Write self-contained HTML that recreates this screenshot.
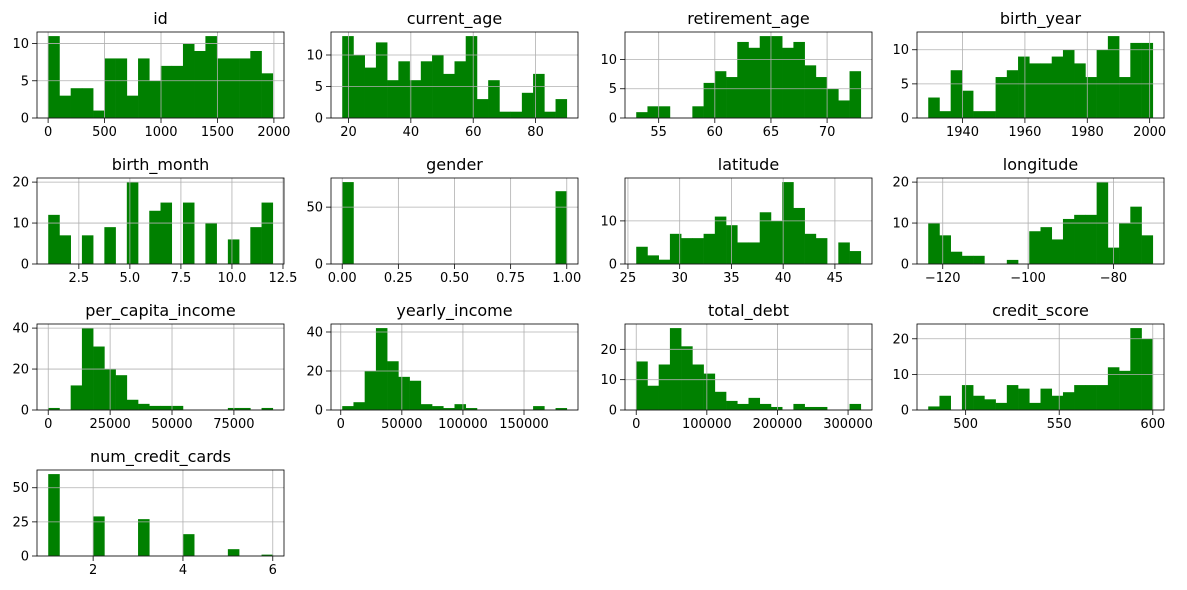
<!DOCTYPE html>
<html><head><meta charset="utf-8"><style>
html,body{margin:0;padding:0;background:#fff;}
svg{display:block;font-family:"DejaVu Sans","Liberation Sans",sans-serif;}
</style></head><body>
<svg id="fig" width="1187" height="590" viewBox="0 0 1187 590" xmlns="http://www.w3.org/2000/svg"></svg>
<script>
const titles = ["id","current_age","retirement_age","birth_year","birth_month","gender","latitude","longitude","per_capita_income","yearly_income","total_debt","credit_score","num_credit_cards"];
const idCounts = [11,3,4,4,1,8,8,3,8,5,7,7,10,9,11,8,8,8,9,6];
const currentAgeCounts = [13,10,8,12,6,9,6,9,10,7,9,13,3,6,1,1,4,7,1,3];
const retirementAgeCounts = [1,2,2,0,0,2,6,8,7,13,12,14,14,12,13,9,7,5,3,8];
const birthYearCounts = [3,1,7,4,1,1,6,7,9,8,8,9,10,8,6,10,12,6,11,11];
const birthMonthCounts = [12,7,0,7,0,9,0,20,0,13,15,0,15,0,10,0,6,0,9,15];
const genderCounts = [72,0,0,0,0,0,0,0,0,0,0,0,0,0,0,0,0,0,0,64];
const latitudeCounts = [4,2,1,7,6,6,7,11,9,5,5,12,10,19,13,7,6,0,5,3];
const longitudeCounts = [10,7,3,2,2,0,0,1,0,8,9,6,11,12,12,20,4,10,14,7];
const perCapitaCounts = [1,0,12,40,31,20,17,5,3,2,2,2,0,0,0,0,1,1,0,1];
const yearlyIncomeCounts = [2,4,20,42,25,17,15,3,2,1,3,1,0,0,0,0,0,2,0,1];
const totalDebtCounts = [16,8,15,27,21,15,12,6,3,2,4,2,1,0,2,1,1,0,0,2];
const creditScoreCounts = [1,4,0,7,4,3,2,7,6,2,6,4,5,7,7,7,12,11,23,20];
const numCardsCounts = [60,0,0,0,29,0,0,0,27,0,0,0,16,0,0,0,5,0,0,1];
const dataMin = [1,18,53,1929,1,0,25.8,-123.4,0,1200,0,480,1];
const dataMax = [1990,90,73,2001,12,1,47.5,-70.8,90700,185000,318000,600,6];
const xTicks = [[0,500,1000,1500,2000],[20,40,60,80],[55,60,65,70],[1940,1960,1980,2000],[2.5,5,7.5,10,12.5],[0,0.25,0.5,0.75,1],[25,30,35,40,45],[-120,-100,-80],[0,25000,50000,75000],[0,50000,100000,150000],[0,100000,200000,300000],[500,550,600],[2,4,6]];
const xTickLabels = [["0","500","1000","1500","2000"],["20","40","60","80"],["55","60","65","70"],["1940","1960","1980","2000"],["2.5","5.0","7.5","10.0","12.5"],["0.00","0.25","0.50","0.75","1.00"],["25","30","35","40","45"],["\u2212120","\u2212100","\u221280"],["0","25000","50000","75000"],["0","50000","100000","150000"],["0","100000","200000","300000"],["500","550","600"],["2","4","6"]];
const yTicks = [[0,5,10],[0,5,10],[0,5,10],[0,5,10],[0,10,20],[0,50],[0,10],[0,10,20],[0,20,40],[0,20,40],[0,10,20],[0,10,20],[0,25,50]];
const allCounts = [idCounts,currentAgeCounts,retirementAgeCounts,birthYearCounts,birthMonthCounts,genderCounts,latitudeCounts,longitudeCounts,perCapitaCounts,yearlyIncomeCounts,totalDebtCounts,creditScoreCounts,numCardsCounts];

const NS = "http://www.w3.org/2000/svg";
const svg = document.getElementById('fig');
const colX = [37,331,625,917], rowY = [32,178,324,470], W = 247, H = 86;
function mk(tag, attrs, parent){ const e=document.createElementNS(NS,tag); for(const k in attrs) e.setAttribute(k,attrs[k]); parent.appendChild(e); return e; }

allCounts.forEach((counts, i) => {
  const L = colX[i%4], T = rowY[Math.floor(i/4)];
  const mn = dataMin[i], mx = dataMax[i], R = mx - mn;
  const x0 = mn - 0.05*R, x1 = mx + 0.05*R;
  const ymax = Math.max(...counts) * 1.05;
  const sx = v => L + (v - x0) / (x1 - x0) * W;
  const sy = v => T + H - v / ymax * H;
  const g = mk('g', {}, svg);
  
  
  // bars
  const bw = R / counts.length;
  counts.forEach((c, k) => {
    if (c <= 0) return;
    const a = sx(mn + k*bw), b = sx(mn + (k+1)*bw);
    const r = mk('rect', {x:a, y:sy(c), width:b-a+0.3, height:sy(0)-sy(c), fill:'#008000'}, g);
    
    
  });
  // grid + ticks
  xTicks[i].forEach((t, k) => {
    const x = sx(t);
    const gl = mk('line', {x1:x, x2:x, y1:T, y2:T+H, stroke:'#b0b0b0', 'stroke-width':0.8}, g);
    
    
    const tk = mk('line', {x1:x, x2:x, y1:T+H, y2:T+H+5, stroke:'#000', 'stroke-width':0.8}, g);
    
    
    const tl = mk('text', {x:x, y:T+H+18, 'text-anchor':'middle', 'font-size':13, fill:'#000'}, g);
    tl.textContent = xTickLabels[i][k];
    
    
  });
  yTicks[i].forEach(t => {
    const y = sy(t);
    const gl = mk('line', {x1:L, x2:L+W, y1:y, y2:y, stroke:'#b0b0b0', 'stroke-width':0.8}, g);
    
    
    const tk = mk('line', {x1:L-5, x2:L, y1:y, y2:y, stroke:'#000', 'stroke-width':0.8}, g);
    
    
    const tl = mk('text', {x:L-8, y:y+4.5, 'text-anchor':'end', 'font-size':13, fill:'#000'}, g);
    tl.textContent = String(t);
    
    
  });
  const fr = mk('rect', {x:L, y:T, width:W, height:H, fill:'none', stroke:'#000', 'stroke-width':0.8}, g);
  
  
  const tt = mk('text', {x:L+W/2, y:T-8, 'text-anchor':'middle', 'font-size':16, fill:'#000'}, g);
  tt.textContent = titles[i];
  
  
});
</script>
</body></html>
